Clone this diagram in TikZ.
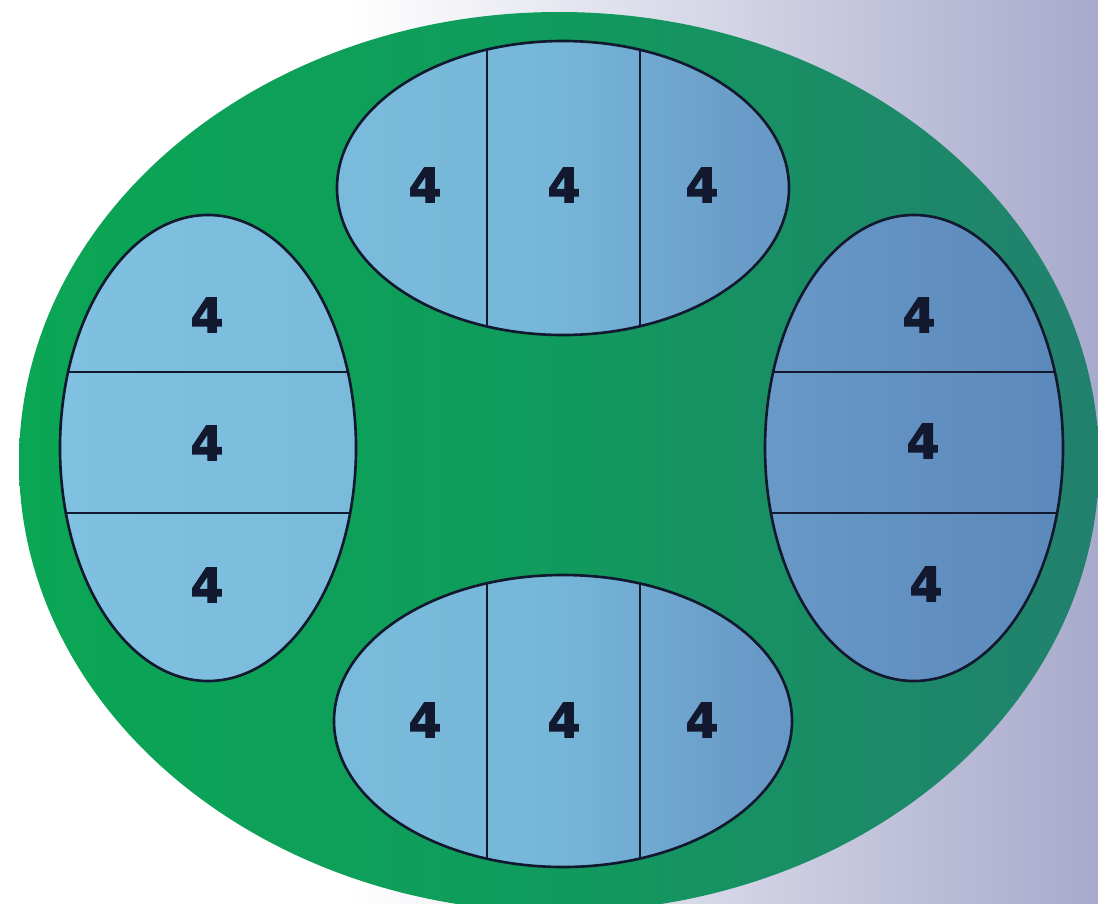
\documentclass[tikz,border=0pt]{standalone}
\usepackage{fontspec}
\newfontfamily\numfont{DejaVu Sans}[BoldFeatures={FakeBold=2.5}]
\usetikzlibrary{shadings}
\definecolor{bgcol}{RGB}{168,170,204}
\definecolor{grnL}{RGB}{10,166,84}
\definecolor{grnM}{RGB}{16,156,92}
\definecolor{grnR}{RGB}{34,128,110}
\definecolor{bluL}{RGB}{128,193,225}
\definecolor{bluM}{RGB}{118,182,216}
\definecolor{bluN}{RGB}{104,153,199}
\definecolor{bluR}{RGB}{92,137,187}
\definecolor{inkcol}{RGB}{18,24,46}
\pgfdeclarehorizontalshading{backfade}{100bp}{color(0bp)=(white); color(25bp)=(white); color(41bp)=(white); color(75bp)=(bgcol); color(100bp)=(bgcol)}
\pgfdeclarehorizontalshading{greenfade}{100bp}{color(0bp)=(grnL); color(25bp)=(grnL); color(48bp)=(grnM); color(75bp)=(grnR); color(100bp)=(grnR)}
\pgfdeclarehorizontalshading{bluefade}{100bp}{color(0bp)=(bluL); color(25bp)=(bluL); color(50bp)=(bluM); color(60bp)=(bluN); color(75bp)=(bluR); color(100bp)=(bluR)}

\begin{document}
\begin{tikzpicture}[x=0.02cm,y=-0.02cm,
  rim/.style={draw=inkcol,line width=1.5pt},
  cut/.style={draw=inkcol,line width=1.4pt},
  num/.style={font=\numfont\bfseries\fontsize{27}{27}\selectfont,text=inkcol,inner sep=0pt}]
  \useasboundingbox (0,0) rectangle (1098,903);
  \clip (0,0) rectangle (1098,903);
  % backdrop and the green table
  \shade[shading=backfade] (0,0) rectangle (1098,903);
  \shade[shading=greenfade] (559,462) ellipse [x radius=540,y radius=450];
  % one blue fade across all four pads
  \shade[shading=bluefade]
    (208,448) ellipse [x radius=148,y radius=233]
    (563,188) ellipse [x radius=226,y radius=147]
    (914,448) ellipse [x radius=149,y radius=233]
    (563,721) ellipse [x radius=229,y radius=146];
  % top and bottom pads: three columns
  \foreach \cy/\rx/\ry in {188/226/147,721/229/146}{
    \begin{scope}
      \clip (563,\cy) ellipse [x radius=\rx,y radius=\ry];
      \foreach \cx in {487,640}{\draw[cut] (\cx,0) -- (\cx,903);}
    \end{scope}
    \draw[rim] (563,\cy) ellipse [x radius=\rx,y radius=\ry];}
  % left and right pads: three rows
  \foreach \cx/\rx in {208/148,914/149}{
    \begin{scope}
      \clip (\cx,448) ellipse [x radius=\rx,y radius=233];
      \foreach \cy in {372,513}{\draw[cut] (0,\cy) -- (1098,\cy);}
    \end{scope}
    \draw[rim] (\cx,448) ellipse [x radius=\rx,y radius=233];}
  % the numbers
  \foreach \x/\y/\n in {425/185/t1,564/185/t2,702/185/t3,
      425/720/b1,564/720/b2,702/720/b3,
      207/315/l1,207/443/l2,207/585/l3,
      919/315/r1,923/441/r2,926/584/r3}
    {\node[num] (\n) at (\x,\y) {4};}
\end{tikzpicture}
\end{document}
